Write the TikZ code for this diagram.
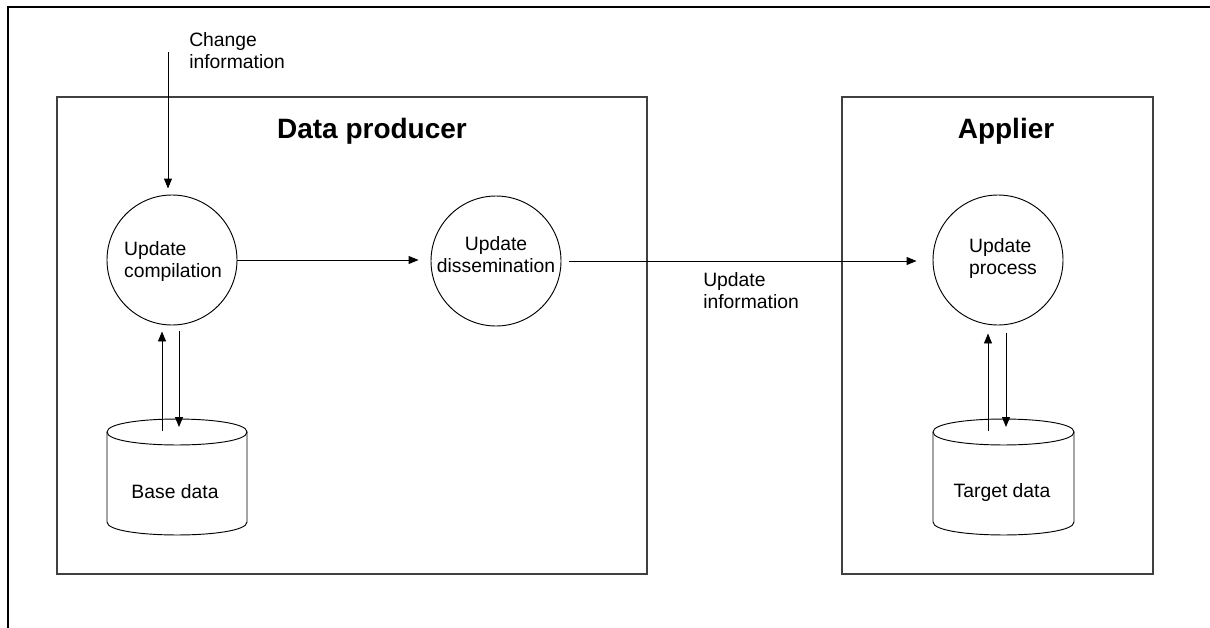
\documentclass[tikz,border=0pt]{standalone}
\usepackage{fontspec}
\setmainfont{Liberation Sans}
\usetikzlibrary{arrows.meta,calc}
\begin{document}
\begin{tikzpicture}[x=0.75pt,y=-0.75pt,
  txt/.style={font=\fontsize{14.5}{16.5}\selectfont, align=center, inner sep=0pt},
  ttl/.style={font=\fontsize{21}{24}\selectfont\bfseries, inner sep=0pt},
  frame/.style={line width=1.3pt, black},
  box/.style={draw=black!75, line width=1.2pt, inner sep=0pt},
  procnode/.style={circle, draw, line width=0.7pt, minimum size=97.5pt, inner sep=0pt},
  flow/.style={line width=0.7pt, -{Triangle[length=7.5pt,width=6pt]}},
  store/.style={line width=0.7pt}]
\useasboundingbox (0,0) rectangle (1210,628);
% outer frame (partial)
\draw[frame] (8,628) -- (8,7) -- (1210,7);
% boxes
\node[box, minimum width=442.5pt, minimum height=357.75pt] (dp) at (352,335.5) {};
\node[box, minimum width=233.25pt, minimum height=357.75pt] (ap) at (997.5,335.5) {};
\node[ttl] (dpT) at (372,131) {Data producer};
\node[ttl] (apT) at (1006,131) {Applier};
% processes
\node[procnode] (comp) at (172,260) {};
\node[procnode] (diss) at (496,261) {};
\node[procnode] (upd) at (998,260) {};
\node[txt, align=left] (compT) at (173,261) {Update\\compilation};
\node[txt] (dissT) at (496,255) {Update\\dissemination};
\node[txt, align=left] (updT) at (1003,258) {Update\\process};
% data stores
\draw[store] (107,432) .. controls (107,414.7) and (247,414.7) .. (247,432)
             .. controls (247,449.3) and (107,449.3) .. (107,432);
\draw[store] (107,432) -- (107,522) .. controls (107,539.3) and (247,539.3) .. (247,522) -- (247,432);
\node[txt] (baseT) at (175,492) {Base data};
\draw[store] (933,432) .. controls (933,414.7) and (1074,414.7) .. (1074,432)
             .. controls (1074,449.3) and (933,449.3) .. (933,432);
\draw[store] (933,432) -- (933,522) .. controls (933,539.3) and (1074,539.3) .. (1074,522) -- (1074,432);
\node[txt] (targT) at (1002,492) {Target data};
% connectors
\coordinate (chg) at (168,52);
\node[txt, align=left, anchor=west] (chgT) at (189,51) {Change\\information};
\draw[flow, shorten >=4.5pt] (chg) -- (chg |- comp.north);
\draw[flow, shorten >=9pt] (comp.east) -- (comp.east -| diss.west);
\draw[flow, shorten <=6pt, shorten >=12pt] (diss.east) -- (diss.east -| upd.west);
\node[txt, align=left, anchor=west] (updInfo) at (703,291) {Update\\information};
\coordinate (bIn) at (162,431);
\coordinate (bOut) at (179,427);
\draw[flow, shorten >=4.5pt] (bIn) -- (bIn |- comp.south);
\draw[flow, shorten <=4.5pt] (bOut |- comp.south) -- (bOut);
\coordinate (tIn) at (988,431);
\coordinate (tOut) at (1006,427);
\draw[flow, shorten >=6pt] (tIn) -- (tIn |- upd.south);
\draw[flow, shorten <=6pt] (tOut |- upd.south) -- (tOut);
\end{tikzpicture}
\end{document}
